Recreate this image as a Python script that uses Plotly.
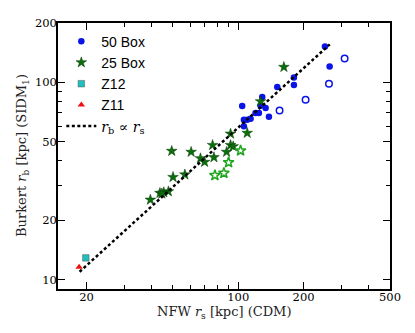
import plotly.graph_objects as go

# 50 Box, filled and open circles
box50_x = [250.8, 263.6, 180.5, 180.5, 151.3, 129.0, 104.3, 138.5, 126.7, 133.7,
           124.5, 120.2, 114.0, 110.0, 106.2, 106.2]
box50_y = [152.0, 120.5, 106.0, 96.9, 94.7, 84.3, 75.9, 67.0, 76.2, 74.1,
           70.0, 70.0, 65.5, 64.7, 64.7, 59.9]
box50_open_x = [309.0, 261.8, 204.3, 155.0]
box50_open_y = [132.3, 98.5, 81.7, 72.1]

# 25 Box, filled and open stars
box25_x = [162.3, 126.7, 110.0, 92.2, 76.2, 92.2, 94.8, 88.4, 77.3, 67.0, 70.0,
           60.7, 49.4, 50.1, 56.8, 47.7, 45.4, 43.6, 44.5, 39.4]
box25_y = [119.6, 80.1, 55.4, 54.9, 48.1, 48.1, 47.4, 44.4, 41.7, 41.2, 39.5,
           44.4, 44.9, 33.1, 34.1, 28.0, 27.7, 27.5, 27.3, 25.4]
box25_open_x = [102.5, 90.3, 85.9, 78.1]
box25_open_y = [45.1, 39.3, 34.7, 33.8]

z12_x, z12_y = [19.87], [12.9]
z11_x, z11_y = [18.5], [11.6]

# r_b proportional to r_s
fit_x = [18.6, 264.0]
fit_ratio = 0.59
fit_y = [fit_ratio * v for v in fit_x]

x_major = [20, 100, 200, 500]
x_minor = [30, 40, 50, 60, 70, 80, 90, 300, 400]
y_major = [10, 20, 50, 100, 200]
y_minor = [30, 40, 60, 70, 80, 90]

blue = "#0a14e6"
green = "#0b6e0b"
light_green = "#1ea51e"
serif = "DejaVu Serif"

fig = go.Figure()
fig.add_trace(go.Scatter(x=box50_x, y=box50_y, mode="markers", name="50 Box",
                         legendgroup="50",
                         marker=dict(symbol="circle", size=6.5, color=blue)))
fig.add_trace(go.Scatter(x=box50_open_x, y=box50_open_y, mode="markers",
                         legendgroup="50", showlegend=False,
                         marker=dict(symbol="circle-open", size=6.5, color=blue,
                                     line=dict(width=1.5))))
fig.add_trace(go.Scatter(x=box25_x, y=box25_y, mode="markers", name="25 Box",
                         legendgroup="25",
                         marker=dict(symbol="star", size=8, color=green,
                                     line=dict(width=0.5, color="#053805"))))
fig.add_trace(go.Scatter(x=box25_open_x, y=box25_open_y, mode="markers",
                         legendgroup="25", showlegend=False,
                         marker=dict(symbol="star-open", size=8, color=light_green,
                                     line=dict(width=1.5))))
fig.add_trace(go.Scatter(x=z12_x, y=z12_y, mode="markers", name="Z12",
                         marker=dict(symbol="square", size=6.5, color="#1fbfbf",
                                     line=dict(width=0.5, color="#555555"))))
fig.add_trace(go.Scatter(x=z11_x, y=z11_y, mode="markers", name="Z11",
                         marker=dict(symbol="triangle-up", size=6.5, color="#ee1111")))
fig.add_trace(go.Scatter(
    x=fit_x, y=fit_y, mode="lines",
    name=f'<span style="font-family:{serif}"><i>r</i><sub>b</sub> ∝ <i>r</i><sub>s</sub></span>',
    line=dict(color="black", width=2.5, dash="3px,2.5px")))

axis_common = dict(
    type="log", showline=True, linecolor="black", linewidth=1.5, mirror="ticks",
    ticks="inside", ticklen=7, tickwidth=1.2, tickcolor="black",
    showgrid=False, zeroline=False, automargin=False,
    tickfont=dict(family=serif, size=11.5, color="black"),
)
fig.update_xaxes(
    **axis_common, range=[1.170, 2.699], tickvals=x_major,
    ticktext=[str(v) for v in x_major], ticklabelstandoff=-4,
    minor=dict(tickvals=x_minor, ticks="inside", ticklen=4, tickcolor="black"),
)
fig.update_yaxes(
    **axis_common, range=[0.953, 2.301], tickvals=y_major,
    ticktext=[str(v) for v in y_major], ticklabelstandoff=-3,
    minor=dict(tickvals=y_minor, ticks="inside", ticklen=4, tickcolor="black"),
)

# axis titles as annotations so they sit where the reference has them
title_font = dict(family=serif, size=13, color="#222222")
fig.add_annotation(text="NFW <i>r</i><sub>s</sub> [kpc] (CDM)", xref="paper", yref="paper",
                   x=0.5, y=0, yshift=-23, xanchor="center", yanchor="middle",
                   showarrow=False, font=title_font)
fig.add_annotation(text="Burkert <i>r</i><sub>b</sub> [kpc] (SIDM<sub>1</sub>)",
                   xref="paper", yref="paper", x=0, y=0.5, xshift=-36,
                   xanchor="center", yanchor="middle", textangle=-90,
                   showarrow=False, font=title_font)

# the page body adds an 8px margin on the top and left, so the figure is 8px smaller
fig.update_layout(
    width=407, height=325,
    margin=dict(l=50, r=25, t=15, b=44),
    paper_bgcolor="white", plot_bgcolor="white",
    legend=dict(x=0.01, y=0.99, xanchor="left", yanchor="top",
                bgcolor="rgba(0,0,0,0)", tracegroupgap=0, itemwidth=30,
                font=dict(family="Liberation Sans", size=14, color="black")),
)

fig.write_html("out.html")
